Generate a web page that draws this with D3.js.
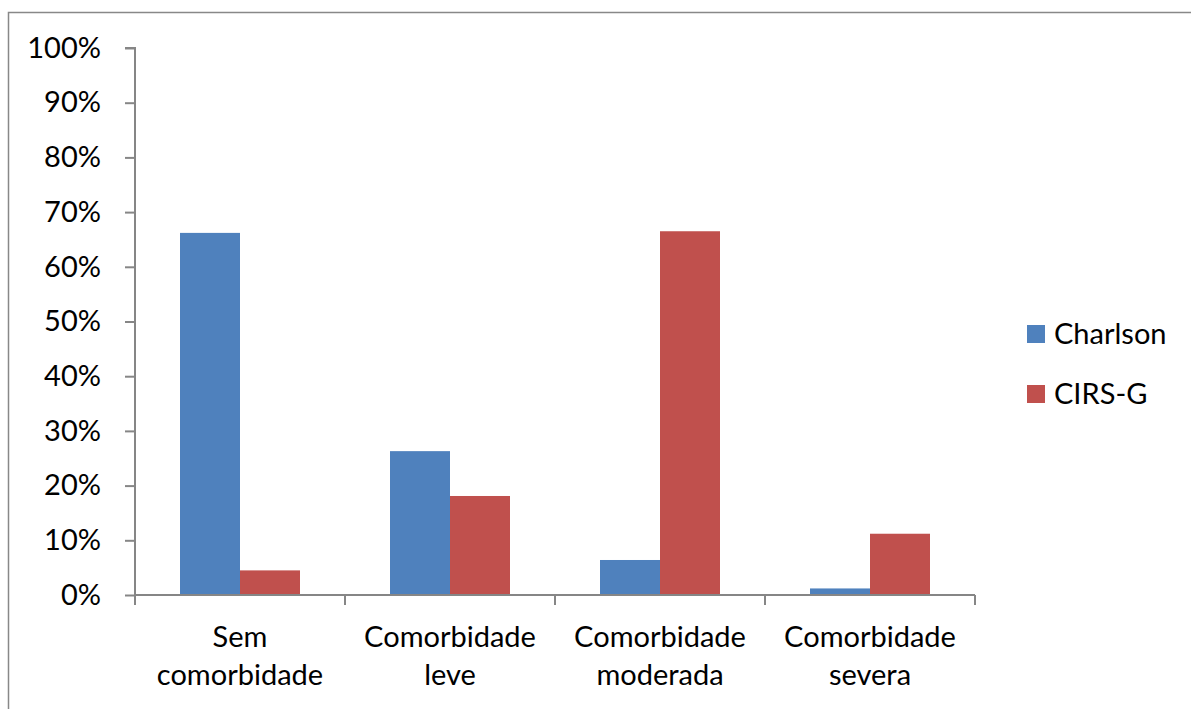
<!DOCTYPE html>
<html><head><meta charset="utf-8">
<script src="https://cdn.jsdelivr.net/npm/d3@7"></script>
<style>body{margin:0;background:#fff}svg{display:block}text{font-family:Lato,"Open Sans",sans-serif;fill:#000}</style>
</head><body>
<script>
const categories = [["Sem","comorbidade"],["Comorbidade","leve"],["Comorbidade","moderada"],["Comorbidade","severa"]];
const seriesNames = ["Charlson","CIRS-G"];
const charlson = [0.662, 0.263, 0.064, 0.012];
const cirsg = [0.045, 0.181, 0.665, 0.112];
const yTicks = [0,0.1,0.2,0.3,0.4,0.5,0.6,0.7,0.8,0.9,1.0];
const colors = ["#4F81BD","#C0504D"];

(function(){
const W=1191,H=709,FS="29px";
const svg=d3.select("body").append("svg").attr("width",W).attr("height",H);
svg.append("rect").attr("x",8.5).attr("y",12.5).attr("width",W+10).attr("height",H+10).attr("fill","none").attr("stroke","#888").attr("stroke-width",1.5);

const pL=135,pR=975,pT=48,pB=595;
const x=d3.scaleBand().domain(d3.range(categories.length)).range([pL,pR]);
const y=d3.scaleLinear().domain([0,1]).range([pB,pT]);
const xs=d3.scaleBand().domain([0,1]).range([0,x.bandwidth()]).paddingOuter(0.75).paddingInner(0);

const yAxis=d3.axisLeft(y).tickValues(yTicks).tickFormat(d3.format(".0%")).tickSize(10).tickPadding(24);
const gy=svg.append("g").attr("transform",`translate(${pL},0)`).call(yAxis);
gy.selectAll("path,line").attr("stroke","#868686").attr("stroke-width",2);
gy.select(".domain").attr("d",`M-10,${pT}H0V${pB}`);
gy.selectAll("text").style("font-size",FS).attr("font-family","Lato").attr("fill","#000");

const data=[charlson,cirsg];
categories.forEach((c,i)=>{
  data.forEach((s,j)=>{
    svg.append("rect").attr("x",x(i)+xs(j)).attr("width",xs.bandwidth()).attr("y",y(s[i])).attr("height",y(0)-y(s[i])).attr("fill",colors[j]);
  });
});

const xAxis=d3.axisBottom(x).tickSize(0).tickFormat("");
const gx=svg.append("g").attr("transform",`translate(0,${pB})`).call(xAxis);
gx.select(".domain").attr("stroke","#868686").attr("stroke-width",2).attr("d",`M${pL},0H${pR}`);
const bounds=[pL].concat(categories.map((c,i)=>x(i)+x.bandwidth()));
svg.selectAll(".xt").data(bounds).enter().append("line").attr("x1",d=>d).attr("x2",d=>d).attr("y1",pB).attr("y2",pB+10).attr("stroke","#868686").attr("stroke-width",2);

categories.forEach((c,i)=>{
  const t=svg.append("text").attr("x",x(i)+x.bandwidth()/2).attr("y",647).attr("text-anchor","middle").style("font-size",FS);
  c.forEach((line,k)=>t.append("tspan").attr("x",x(i)+x.bandwidth()/2).attr("dy",k?38:0).text(line));
});

seriesNames.forEach((n,j)=>{
  const cy=334+j*60;
  svg.append("rect").attr("x",1027).attr("y",cy-9).attr("width",18).attr("height",18).attr("fill",colors[j]);
  svg.append("text").attr("x",1054).attr("y",cy).attr("dy","0.35em").style("font-size",FS).text(n);
});
})();
</script>
</body></html>
